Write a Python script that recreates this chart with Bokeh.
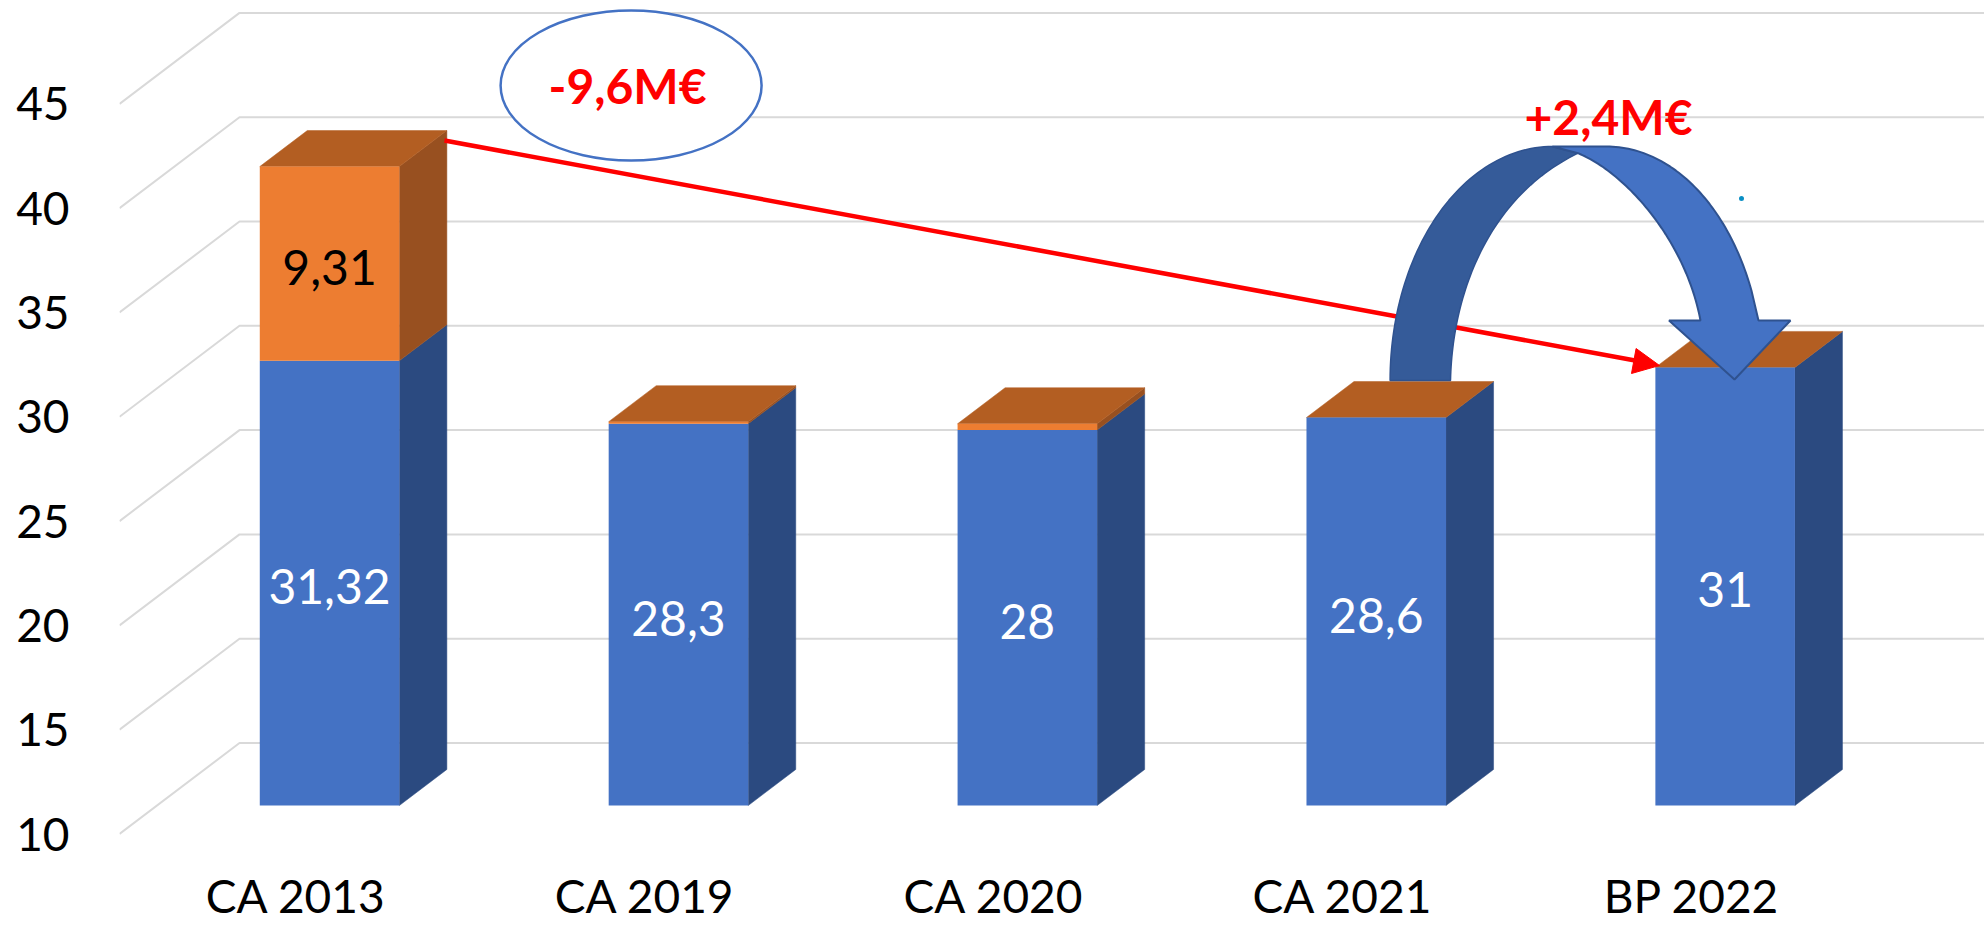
import numpy as np
from bokeh.embed import file_html
from bokeh.resources import INLINE
from bokeh.plotting import figure
from bokeh.models import Range1d, LinearAxis, FixedTicker, ColumnDataSource
from bokeh.core.properties import value

# ---- data ----
categories = ["CA 2013", "CA 2019", "CA 2020", "CA 2021", "BP 2022"]
blue_values = [31.32, 28.3, 28.0, 28.6, 31.0]
orange_values = [9.31, 0.1, 0.3, 0.0, 0.0]
blue_labels = ["31,32", "28,3", "28", "28,6", "31"]
orange_label = "9,31"
y_ticks = [10, 15, 20, 25, 30, 35, 40, 45]
note_down = "-9,6M€"
note_up = "+2,4M€"

# ---- scale of the picture (pixels of the reference image) ----
W, H = 1984, 926
PAD = 0
PX_PER_CAT = 348.9
PX_PER_VAL = 20.86
CAT0_PX = 295.5      # centre of the first category label
VAL10_PX = 833.5     # value 10 on the front plane
LEFT_PX = 119.0
BOTTOM_PX = 853.0
BASE = 10.0
WALL_DX = 120.0 / PX_PER_CAT   # depth of the 3D wall in x units
WALL_DY = 91.0 / PX_PER_VAL    # depth of the 3D wall in y units
BAR_W = 0.4
BAR_D0, BAR_D1 = 0.313, 0.709  # depth of the front / back of the bars
BAR_SHIFT = -4.0 / PX_PER_CAT
FONT = value("Lato")
SIZE = "46px"
LABEL_SIZE = "48px"


def rx(px):
    return (np.asarray(px, dtype=float) - CAT0_PX) / PX_PER_CAT


def ry(py):
    return BASE + (VAL10_PX - np.asarray(py, dtype=float)) / PX_PER_VAL


p = figure(
    width=W, height=H, output_backend="svg", toolbar_location=None,
    x_range=Range1d(float(rx(LEFT_PX)), float(rx(W + PAD))),
    y_range=Range1d(float(ry(BOTTOM_PX)), float(ry(PAD))),
    x_axis_location=None, y_axis_location=None,
    min_border_left=int(LEFT_PX - PAD), min_border_right=0,
    min_border_top=0, min_border_bottom=int(H + PAD - BOTTOM_PX),
    background_fill_color="white", border_fill_color="white",
)
p.outline_line_color = None
p.grid.visible = False

# ---- axes ----
yax = LinearAxis(ticker=FixedTicker(ticks=y_ticks))
xax = LinearAxis(ticker=FixedTicker(ticks=list(range(len(categories)))),
                 major_label_overrides=dict(enumerate(categories)))
for ax in (xax, yax):
    ax.axis_line_color = None
    ax.major_tick_line_color = None
    ax.minor_tick_line_color = None
    ax.major_label_text_font = "Lato"
    ax.major_label_text_font_size = SIZE
    ax.major_label_text_color = "black"
yax.major_label_standoff = 44
xax.major_label_standoff = 8
p.add_layout(yax, "left")
p.add_layout(xax, "below")

# ---- 3D gridlines ----
x0, x1 = float(rx(LEFT_PX)), float(rx(LEFT_PX)) + len(categories)
p.multi_line(
    xs=[[x0, x0 + WALL_DX, x1 + WALL_DX] for _ in y_ticks],
    ys=[[v, v + WALL_DY, v + WALL_DY] for v in y_ticks],
    line_color="#d9d9d9", line_width=2,
)


# ---- 3D bars ----
def front(i, d=BAR_D0):
    return i + d * WALL_DX + BAR_SHIFT


def lift(d):
    return d * WALL_DY


segments = {"xs": [], "ys": [], "color": []}


def side(i, lo, hi, color):
    xa, xb = front(i) + BAR_W / 2, front(i, BAR_D1) + BAR_W / 2
    segments["xs"].append([xa, xb, xb, xa])
    segments["ys"].append([lo + lift(BAR_D0), lo + lift(BAR_D1),
                           hi + lift(BAR_D1), hi + lift(BAR_D0)])
    segments["color"].append(color)


def top(i, v, color):
    xa, xb = front(i) - BAR_W / 2, front(i) + BAR_W / 2
    dx = (BAR_D1 - BAR_D0) * WALL_DX
    segments["xs"].append([xa, xb, xb + dx, xa + dx])
    segments["ys"].append([v + lift(BAR_D0), v + lift(BAR_D0),
                           v + lift(BAR_D1), v + lift(BAR_D1)])
    segments["color"].append(color)


idx = np.arange(len(categories))
for i, (b, o) in enumerate(zip(blue_values, orange_values)):
    side(i, BASE, b, "#2b4a80")
    if o > 0:
        side(i, b, b + o, "#985020")
    top(i, b + o, "#b35e22")
p.patches("xs", "ys", fill_color="color", line_color="color", line_width=0.5,
          source=ColumnDataSource(segments))

blue = np.array(blue_values)
orange = np.array(orange_values)
bars = ColumnDataSource(dict(
    x=front(idx), base=np.full(len(idx), BASE) + lift(BAR_D0),
    blue_top=blue + lift(BAR_D0), total_top=blue + orange + lift(BAR_D0),
))
p.vbar(x="x", width=BAR_W, bottom="base", top="blue_top", source=bars,
       fill_color="#4472c4", line_color=None)
p.vbar(x="x", width=BAR_W, bottom="blue_top", top="total_top", source=bars,
       fill_color="#ed7d31", line_color=None)

# ---- data labels ----
p.text(front(idx), BASE + (blue - BASE) / 2 + lift(BAR_D0) - 3.5 / PX_PER_VAL,
       text=blue_labels, text_color="white", text_font=FONT, text_font_size=LABEL_SIZE,
       text_align="center", text_baseline="middle")
p.text([front(0)], [blue_values[0] + orange_values[0] / 2 + lift(BAR_D0) - 3.5 / PX_PER_VAL],
       text=[orange_label], text_color="black", text_font=FONT, text_font_size=LABEL_SIZE,
       text_align="center", text_baseline="middle")

# ---- ellipse and red arrow ----
p.ellipse(x=[float(rx(630.6))], y=[float(ry(85))], width=261 / PX_PER_CAT, height=150 / PX_PER_VAL,
          fill_color="white", line_color="#4472c4", line_width=2.5)
p.text([float(rx(627))], [float(ry(85))], text=[note_down], text_color="#ff0000",
       text_font=FONT, text_font_style="bold", text_font_size="48px",
       text_align="center", text_baseline="middle")

p.line(rx([444, 1640]), ry([140, 361]), line_color="#ff0000", line_width=4.5)
p.patch(rx([1659, 1635.6, 1631]), ry([365, 348, 373]), fill_color="#ff0000", line_color="#ff0000")


# ---- curved arrow ----
def arc(cx, cy, a, b, t0, t1, n=60):
    t = np.radians(np.linspace(t0, t1, n))
    return cx + a * np.cos(t), cy - b * np.sin(t)


def bez(P0, P1, P2, P3, n=60):
    t = np.linspace(0, 1, n)[:, None]
    P = (1 - t) ** 3 * np.array(P0) + 3 * (1 - t) ** 2 * t * np.array(P1) \
        + 3 * (1 - t) * t ** 2 * np.array(P2) + t ** 3 * np.array(P3)
    return P[:, 0], P[:, 1]


ox, oy = arc(1552, 380, 162.4, 234, 180, 90)
ix, iy = bez((1577.5, 152.7), (1490, 195), (1452, 290), (1450, 380))
p.patch(rx(np.r_[ox, ix]), ry(np.r_[oy, iy]),
        fill_color="#355b99", line_color="#2f528f", line_width=1.5)

ox, oy = arc(1606, 380, 157, 234, 90, 22.6)
ix, iy = bez((1700, 320), (1685, 240), (1625, 172), (1577.5, 152.7))
p.patch(rx(np.r_[1552, ox, 1758, 1790, 1734, 1668.5, 1700, ix]),
        ry(np.r_[146, oy, 320, 320, 379, 320, 320, iy]),
        fill_color="#4472c4", line_color="#2f528f", line_width=2)

p.circle(x=[float(rx(1741))], y=[float(ry(198))], radius=2.5 / PX_PER_CAT, fill_color="#0a8fc4", line_color=None)

p.text([float(rx(1608))], [float(ry(115.5))], text=[note_up], text_color="#ff0000",
       text_font=FONT, text_font_style="bold", text_font_size="48px",
       text_align="center", text_baseline="middle")

open("out.html", "w").write(file_html(p, INLINE))
